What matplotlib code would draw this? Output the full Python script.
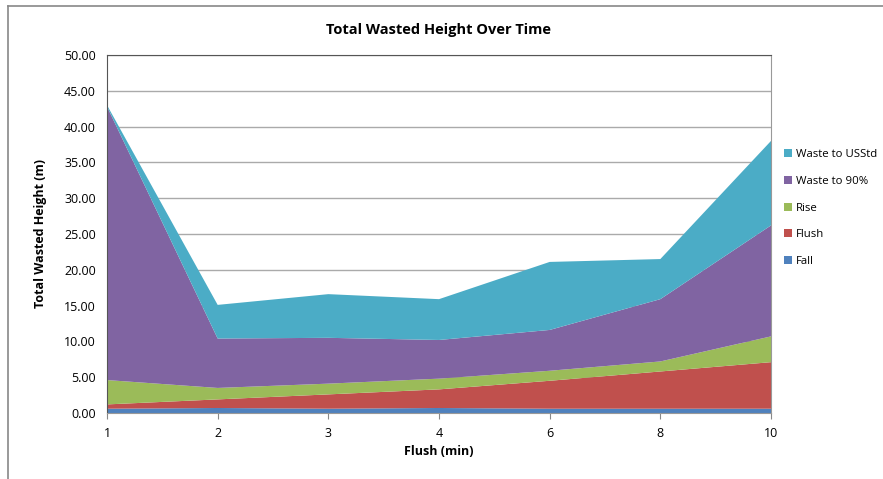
import numpy as np
import matplotlib.pyplot as plt
from matplotlib.lines import Line2D

plt.rcParams['font.family'] = ['Open Sans', 'DejaVu Sans']

flush_min = ['1', '2', '3', '4', '6', '8', '10']
fall = [0.6, 0.7, 0.6, 0.7, 0.6, 0.6, 0.6]
flush = [0.6, 1.2, 2.0, 2.6, 3.9, 5.2, 6.5]
rise = [3.4, 1.6, 1.5, 1.5, 1.4, 1.4, 3.6]
waste_90 = [38.2, 6.9, 6.4, 5.4, 5.7, 8.7, 15.5]
waste_usstd = [0.2, 4.7, 6.1, 5.7, 9.5, 5.6, 11.8]

labels = ['Fall', 'Flush', 'Rise', 'Waste to 90%', 'Waste to USStd']
colors = ['#4F81BD', '#C0504D', '#9BBB59', '#8064A2', '#4BACC6']

fig = plt.figure(figsize=(8.83, 4.79), dpi=100)
ax = fig.add_axes([107/883, 66/479, 664/883, 358/479])

x = np.arange(len(flush_min))
polys = ax.stackplot(x, fall, flush, rise, waste_90, waste_usstd,
                     colors=colors, labels=labels, linewidth=0)

ax.set_xlim(0, len(x) - 1)
ax.set_ylim(0, 50)
ax.set_xticks(x)
ax.set_xticklabels(flush_min)
ax.set_yticks(np.arange(0, 51, 5))
ax.set_yticklabels(['%.2f' % v for v in np.arange(0, 51, 5)])
ax.tick_params(axis='both', labelsize=9, colors='#333333', length=4, direction='out')
ax.tick_params(axis='x', pad=6, colors='#888888', labelcolor='black')
ax.tick_params(axis='y', length=0, pad=8, labelcolor='black')
ax.yaxis.grid(True, color='#aaaaaa', linewidth=1)
ax.set_axisbelow(True)
for s in ['left', 'top']:
    ax.spines[s].set_color('#555555')
for s in ['right', 'bottom']:
    ax.spines[s].set_color('#999999')

ax.set_title('Total Wasted Height Over Time', fontsize=10.5, fontweight='bold', pad=15)
ax.set_xlabel('Flush (min)', fontsize=9, fontweight='bold', labelpad=4)
ax.set_ylabel('Total Wasted Height (m)', fontsize=9, fontweight='bold', labelpad=12)

handles, lbls = ax.get_legend_handles_labels()
fig.legend(handles[::-1], lbls[::-1], loc='upper left', bbox_to_anchor=(774/883, 1 - 139/479),
           frameon=False, fontsize=8.2, handlelength=0.7, handleheight=0.7,
           labelspacing=1.38, handletextpad=0.35)

# chart border
fig.add_artist(Line2D([8/883, 8/883], [0, 1 - 6/479], color='#888888', linewidth=1.2))
fig.add_artist(Line2D([8/883, 1], [1 - 6/479, 1 - 6/479], color='#888888', linewidth=1.2))

fig.savefig('out.png', dpi=100)
